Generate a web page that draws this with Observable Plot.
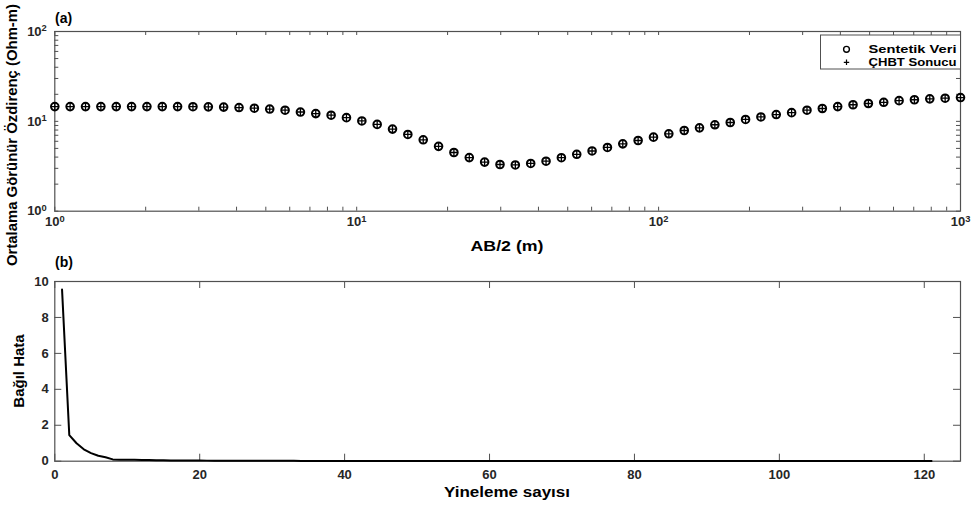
<!DOCTYPE html>
<html>
<head>
<meta charset="utf-8">
<script src="https://cdn.jsdelivr.net/npm/d3@7"></script>
<script src="https://cdn.jsdelivr.net/npm/@observablehq/plot@0.6"></script>
<style>
  body { margin: 0; background: #fff; }
  #wrap { position: relative; width: 971px; height: 505px; overflow: hidden; background: #fff; }
  #wrap > svg { position: absolute; left: 0; }
</style>
</head>
<body>
<div id="wrap"></div>
<script>
// ---------- DATA ----------
// Panel (a): AB/2 (m)
const abHalf = [1.000,1.124,1.264,1.421,1.598,1.796,2.019,2.270,2.551,2.868,
  3.225,3.625,4.076,4.582,5.151,5.791,6.510,7.318,8.227,9.249,
  10.40,11.69,13.14,14.77,16.61,18.67,20.99,23.60,26.53,29.83,
  33.53,37.70,42.38,47.64,53.56,60.21,67.69,76.09,85.54,96.17,
  108.1,121.6,136.6,153.6,172.7,194.1,218.2,245.3,275.8,310.1,
  348.6,391.9,440.6,495.3,556.8,626.0,703.7,791.1,889.4,1000];
// Sentetik Veri (Ohm-m)
const sentetikVeri = [14.6,14.6,14.6,14.6,14.6,14.6,14.6,14.6,14.6,14.55,
  14.5,14.4,14.25,14.0,13.7,13.3,12.7,12.2,11.7,11.0,
  10.1,9.25,8.2,7.15,6.23,5.27,4.5,3.95,3.52,3.31,
  3.27,3.4,3.6,3.94,4.3,4.68,5.12,5.62,6.12,6.67,
  7.27,7.91,8.47,9.16,9.71,10.5,11.2,11.9,12.5,13.3,
  13.9,14.6,15.3,15.8,16.3,17.0,17.4,17.8,18.1,18.4];
// ÇHBT Sonucu (Ohm-m)
const chbtSonucu = [14.6,14.6,14.6,14.6,14.6,14.6,14.6,14.6,14.6,14.55,
  14.5,14.4,14.25,14.0,13.7,13.3,12.7,12.2,11.7,11.0,
  10.1,9.25,8.2,7.15,6.23,5.27,4.5,3.95,3.52,3.31,
  3.27,3.4,3.6,3.94,4.3,4.68,5.12,5.62,6.12,6.67,
  7.27,7.91,8.47,9.16,9.71,10.5,11.2,11.9,12.5,13.3,
  13.9,14.6,15.3,15.8,16.3,17.0,17.4,17.8,18.1,18.4];

// Panel (b): Bağıl Hata per iteration (1..121)
const bagilHata = [9.55,1.45,1.0,0.66,0.45,0.30,0.22,0.10,0.085,0.08,
  0.075,0.068,0.06,0.052,0.047,0.043,0.040,0.038,0.036,0.034,
  0.032,0.031,0.030,0.029,0.028,0.027,0.024,0.022,0.021,0.020,
  0.020,0.019,0.019,0.018,0.018,0.017,0.017,0.017,0.016,0.016,
  0.016,0.015,0.015,0.015,0.015,0.014,0.014,0.014,0.014,0.014,
  0.013,0.013,0.013,0.013,0.013,0.013,0.013,0.013,0.013,0.013,
  0.013,0.013,0.012,0.012,0.012,0.012,0.012,0.012,0.012,0.012,
  0.012,0.012,0.012,0.012,0.012,0.012,0.012,0.012,0.012,0.012,
  0.012,0.012,0.011,0.011,0.011,0.011,0.011,0.011,0.011,0.011,
  0.011,0.011,0.011,0.011,0.011,0.011,0.011,0.011,0.011,0.011,
  0.011,0.011,0.010,0.010,0.010,0.010,0.010,0.010,0.010,0.010,
  0.010,0.010,0.010,0.010,0.010,0.010,0.010,0.010,0.010,0.010,0.010];

// Tick values
const xLogMajor = [1, 10, 100, 1000];
const yLogMajor = [1, 10, 100];
const xLogTicks = [1,2,3,4,5,6,7,8,9,10,20,30,40,50,60,70,80,90,100,200,300,400,500,600,700,800,900,1000];
const yLogTicks = [1,2,3,4,5,6,7,8,9,10,20,30,40,50,60,70,80,90,100];
const xIterTicks = [0, 20, 40, 60, 80, 100, 120];
const yErrTicks = [0, 2, 4, 6, 8, 10];

// Text
const legendLabels = ["Sentetik Veri", "ÇHBT Sonucu"];

// ---------- LAYOUT ----------
const W = 971;
const font = '"Liberation Sans", Arial, Helvetica, sans-serif';
const axisColor = "#505050";
const tickLabelColor = "#262626";
const left = 54.3, right = 11;
const innerW = W - left - right;

const wrap = document.getElementById("wrap");

// cross-hair symbol whose arms reach the circle radius
const crossHair = {
  draw(ctx, size) {
    const r = Math.sqrt(size / Math.PI);
    ctx.moveTo(-r, 0); ctx.lineTo(r, 0);
    ctx.moveTo(0, -r); ctx.lineTo(0, r);
  }
};

function superscripts(svg) {
  svg.querySelectorAll("text").forEach(t => {
    const m = /^10\^(-?\d+)$/.exec(t.textContent);
    if (m) {
      const s = d3.select(t);
      s.text("10");
      s.append("tspan").attr("dy", "-0.45em").attr("font-size", "0.72em").text(m[1]);
    }
  });
}

// ---------- PANEL (a) ----------
const aHeight = 250, aTop = 31, aBottom = 39.3;
const aInnerH = aHeight - aTop - aBottom;
const ptsA = abHalf.map((x, i) => ({x, s: sentetikVeri[i], c: chbtSonucu[i]}));
const tA = 4;

const plotA = Plot.plot({
  width: W, height: aHeight,
  marginTop: aTop, marginBottom: aBottom, marginLeft: left, marginRight: right,
  style: {fontFamily: font, fontSize: "13px", fontWeight: "bold", color: tickLabelColor, background: "transparent", overflow: "visible"},
  x: {type: "log", domain: [1, 1000]},
  y: {type: "log", domain: [1, 100]},
  marks: [
    Plot.tickX(xLogTicks, {x: d => d, insetTop: aInnerH - tA, stroke: axisColor}),
    Plot.tickX(xLogTicks, {x: d => d, insetBottom: aInnerH - tA, stroke: axisColor}),
    Plot.tickY(yLogTicks, {y: d => d, insetRight: innerW - tA, stroke: axisColor}),
    Plot.tickY(yLogTicks, {y: d => d, insetLeft: innerW - tA, stroke: axisColor}),
    Plot.frame({stroke: axisColor, strokeWidth: 1.2}),
    Plot.axisX({ticks: xLogMajor, tickSize: 0, tickPadding: 6, tickFormat: d => "10^" + Math.round(Math.log10(d)), label: null}),
    Plot.axisY({ticks: yLogMajor, tickSize: 0, tickPadding: 8, tickFormat: d => "10^" + Math.round(Math.log10(d)), label: null}),
    Plot.dot(ptsA, {x: "x", y: "s", r: 3.8, stroke: "black", strokeWidth: 2, fill: "none"}),
    Plot.dot(ptsA, {x: "x", y: "c", symbol: crossHair, r: 3.8, stroke: "black", strokeWidth: 1.3, fill: "none"})
  ]
});
plotA.style.top = "0px";
superscripts(plotA);
wrap.appendChild(plotA);

// ---------- PANEL (b) ----------
const bOffset = 250, bHeight = 255, bTop = 31, bBottom = 44.3;
const bInnerH = bHeight - bTop - bBottom;
const ptsB = bagilHata.map((v, i) => ({iter: i + 1, v}));
const tB = 7;

const plotB = Plot.plot({
  width: W, height: bHeight,
  marginTop: bTop, marginBottom: bBottom, marginLeft: left, marginRight: right,
  style: {fontFamily: font, fontSize: "13px", fontWeight: "bold", color: tickLabelColor, background: "transparent", overflow: "visible"},
  x: {domain: [0, 125]},
  y: {domain: [0, 10]},
  marks: [
    Plot.tickX(xIterTicks, {x: d => d, insetTop: bInnerH - tB, stroke: axisColor}),
    Plot.tickX(xIterTicks, {x: d => d, insetBottom: bInnerH - tB, stroke: axisColor}),
    Plot.tickY(yErrTicks, {y: d => d, insetRight: innerW - tB, stroke: axisColor}),
    Plot.tickY(yErrTicks, {y: d => d, insetLeft: innerW - tB, stroke: axisColor}),
    Plot.frame({stroke: axisColor, strokeWidth: 1.2}),
    Plot.axisX({ticks: xIterTicks, tickSize: 0, tickPadding: 9, label: null}),
    Plot.axisY({ticks: yErrTicks, tickSize: 0, tickPadding: 6, label: null}),
    Plot.line(ptsB, {x: "iter", y: "v", stroke: "black", strokeWidth: 2})
  ]
});
plotB.style.top = bOffset + "px";
wrap.appendChild(plotB);

// ---------- LABELS & LEGEND OVERLAY ----------
const ov = d3.select(wrap).append("svg")
  .attr("width", W).attr("height", 505)
  .style("top", "0px")
  .style("font-family", font).style("font-weight", "bold");

ov.append("text").attr("x", 55).attr("y", 23).attr("font-size", 14).text("(a)");
ov.append("text").attr("x", 55).attr("y", 267).attr("font-size", 14).text("(b)");

ov.append("text").attr("x", 507).attr("y", 251).attr("font-size", 14)
  .attr("text-anchor", "middle").attr("textLength", 73).attr("lengthAdjust", "spacingAndGlyphs")
  .text("AB/2 (m)");
ov.append("text").attr("x", 507).attr("y", 497).attr("font-size", 14)
  .attr("text-anchor", "middle").attr("textLength", 126).attr("lengthAdjust", "spacingAndGlyphs")
  .text("Yineleme sayısı");

ov.append("text").attr("transform", "translate(17,135) rotate(-90)").attr("font-size", 15)
  .attr("text-anchor", "middle").attr("textLength", 262).attr("lengthAdjust", "spacingAndGlyphs")
  .text("Ortalama Görünür Özdirenç (Ohm-m)");
ov.append("text").attr("transform", "translate(24,371) rotate(-90)").attr("font-size", 15)
  .attr("text-anchor", "middle").text("Bağıl Hata");

// Legend
const lg = ov.append("g");
lg.append("rect").attr("x", 820.5).attr("y", 35).attr("width", 140).attr("height", 34)
  .attr("fill", "white").attr("stroke", axisColor).attr("stroke-width", 1);
lg.append("circle").attr("cx", 846.5).attr("cy", 49.3).attr("r", 2.9)
  .attr("fill", "none").attr("stroke", "black").attr("stroke-width", 1.4);
lg.append("path").attr("d", "M843.8,62.3H849.2M846.5,59.6V65").attr("stroke", "black").attr("stroke-width", 1.2);
lg.append("text").attr("x", 868.5).attr("y", 53.3).attr("font-size", 11.5)
  .attr("textLength", 88).attr("lengthAdjust", "spacingAndGlyphs").text(legendLabels[0]);
lg.append("text").attr("x", 868.5).attr("y", 66.3).attr("font-size", 11.5)
  .attr("textLength", 88).attr("lengthAdjust", "spacingAndGlyphs").text(legendLabels[1]);
</script>
</body>
</html>
